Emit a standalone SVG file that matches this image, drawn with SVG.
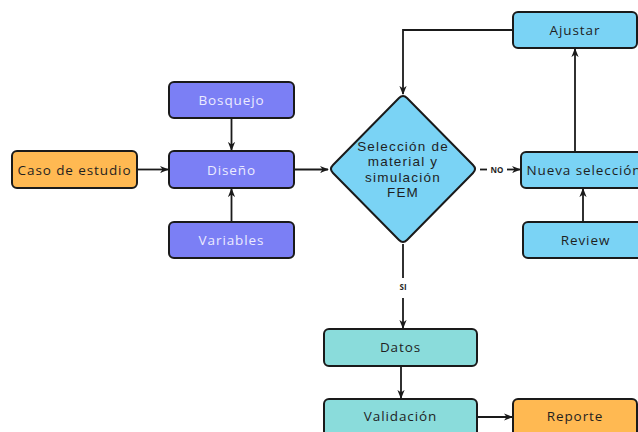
<svg xmlns="http://www.w3.org/2000/svg" width="638" height="432" viewBox="0 0 638 432">
<defs>
<style>
.box{stroke:#1a1a1a;stroke-width:2}
.pur{fill:#7b7ff5}
.org{fill:#ffb952}
.blu{fill:#7ad3f5}
.tea{fill:#8adcdb}
.t{font-family:"Open Sans","Liberation Sans",sans-serif;font-size:13.5px;letter-spacing:0.9px;text-anchor:middle;dominant-baseline:central;fill:#1f1f1f}
.tw{fill:#ecebff}
.d{font-family:"Liberation Sans",Arial,sans-serif;font-size:13.5px;letter-spacing:1.2px}
.lab{font-family:"Open Sans","Liberation Sans",sans-serif;font-size:8px;font-weight:bold;text-anchor:middle;dominant-baseline:central;fill:#1f1f1f}
.c{fill:none;stroke:#1a1a1a;stroke-width:1.8}
</style>
<marker id="ah" viewBox="0 0 10 10" refX="9" refY="5" markerWidth="5" markerHeight="5" orient="auto">
<path d="M0,1 L10,5 L0,9 L3,5 Z" fill="#1a1a1a"/>
</marker>
</defs>
<rect width="638" height="432" fill="#ffffff"/>
<g id="connectors">
<path class="c" d="M137,169.5 H168" marker-end="url(#ah)"/>
<path class="c" d="M231.5,118 V150" marker-end="url(#ah)"/>
<path class="c" d="M231.5,222 V189" marker-end="url(#ah)"/>
<path class="c" d="M294,169.5 H328" marker-end="url(#ah)"/>
<path class="c" d="M513,30 H403 V94" marker-end="url(#ah)"/>
<path class="c" d="M575,152 V49" marker-end="url(#ah)"/>
<path class="c" d="M583,222 V189" marker-end="url(#ah)"/>
<path class="c" d="M480,169.5 H487"/>
<text class="lab" x="497" y="169.5">NO</text>
<path class="c" d="M507,169.5 H520" marker-end="url(#ah)"/>
<path class="c" d="M403,244 V278"/>
<text class="lab" x="403" y="286">SI</text>
<path class="c" d="M403,298 V328" marker-end="url(#ah)"/>
<path class="c" d="M401,366 V398" marker-end="url(#ah)"/>
<path class="c" d="M477,417 H512" marker-end="url(#ah)"/>
</g>
<g id="caso">
<rect class="box org" x="12" y="151" width="125" height="37" rx="5"/>
<text class="t" x="74.5" y="169.5">Caso de estudio</text>
</g>
<g id="bosquejo">
<rect class="box pur" x="169" y="82" width="125" height="36" rx="5"/>
<text class="t tw" x="231.5" y="100">Bosquejo</text>
</g>
<g id="diseno">
<rect class="box pur" x="169" y="151" width="125" height="37" rx="5"/>
<text class="t tw" x="231.5" y="169.5">Diseño</text>
</g>
<g id="variables">
<rect class="box pur" x="169" y="222" width="125" height="36" rx="5"/>
<text class="t tw" x="231.5" y="240">Variables</text>
</g>
<g id="seleccion">
<path class="box blu" d="M399,98 Q403,94 407,98 L473,165 Q477,169 473,173 L407,240 Q403,244 399,240 L333,173 Q329,169 333,165 Z" stroke-linejoin="round"/>
<text class="t d" x="403" y="146">Selección de</text>
<text class="t d" x="403" y="161.5">material y</text>
<text class="t d" x="403" y="177">simulación</text>
<text class="t d" x="403" y="192.5">FEM</text>
</g>
<g id="ajustar">
<rect class="box blu" x="513" y="12" width="124" height="36" rx="5"/>
<text class="t" x="575" y="30">Ajustar</text>
</g>
<g id="nueva">
<rect class="box blu" x="521" y="152" width="126" height="36" rx="5"/>
<text class="t" x="584" y="170">Nueva selección</text>
</g>
<g id="review">
<rect class="box blu" x="523" y="222" width="125" height="36" rx="5"/>
<text class="t" x="585.5" y="240">Review</text>
</g>
<g id="datos">
<rect class="box tea" x="324" y="329" width="153" height="37" rx="5"/>
<text class="t" x="400.5" y="347">Datos</text>
</g>
<g id="validacion">
<rect class="box tea" x="324" y="399" width="153" height="38" rx="5"/>
<text class="t" x="400.5" y="416">Validación</text>
</g>
<g id="reporte">
<rect class="box org" x="513" y="399" width="124" height="38" rx="5"/>
<text class="t" x="575" y="416">Reporte</text>
</g>
</svg>
